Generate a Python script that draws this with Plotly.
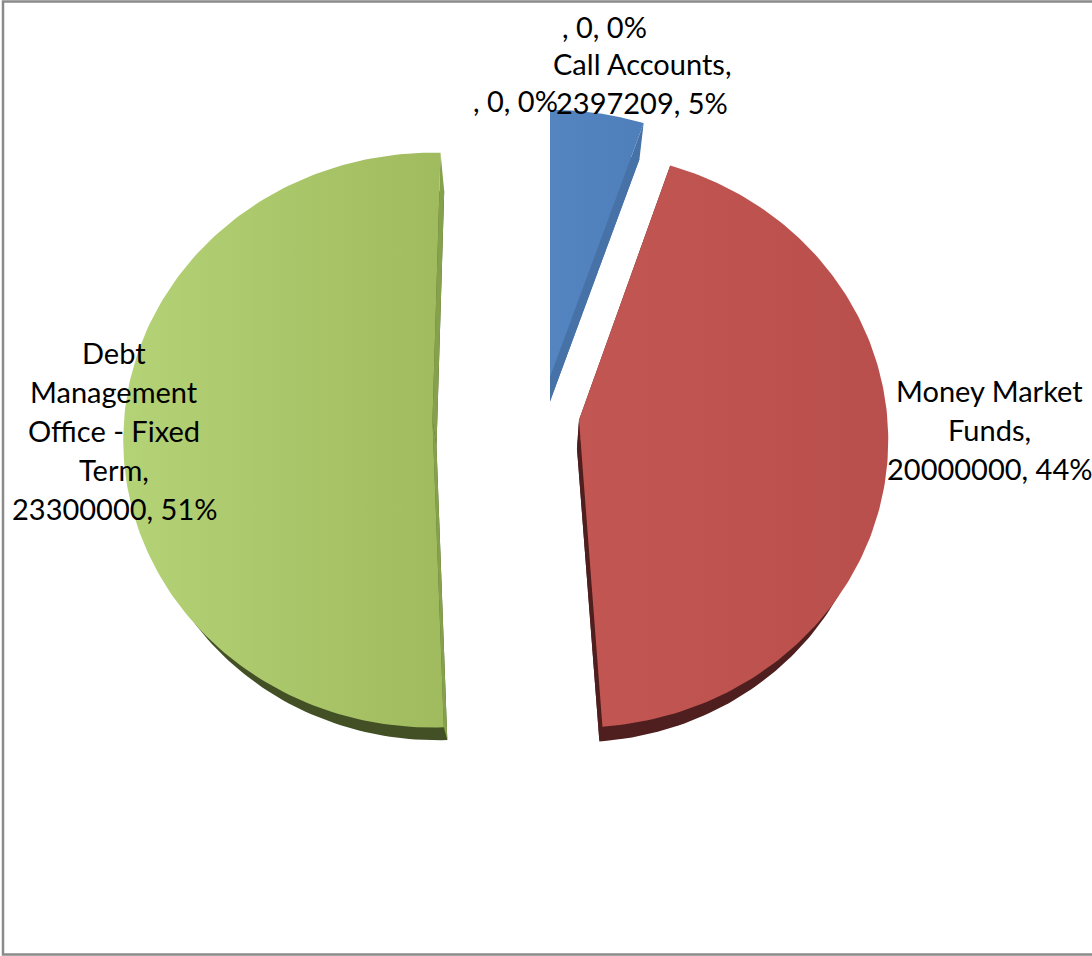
import numpy as np
import plotly.graph_objects as go

# Treasury investments by instrument
categories = ["Call Accounts", "Money Market Funds", "Debt Management Office - Fixed Term", "", ""]
values = [2397209, 20000000, 23300000, 0, 0]
percent_labels = ["5%", "44%", "51%", "0%", "0%"]

# Per-slice styling: exploded apex, turn in degrees, surface gradient, side and rim shades
SLICE_STYLE = [
    dict(apex=(550, 377), turn=0.0, drop=(0, 24.5), grad=("#5485C1", "#4F7FBA"), wall="#4672A8", rim="#4672A8"),
    dict(apex=(579, 420), turn=-0.5, drop=(-2, 28.5), grad=("#C25652", "#B94F4C"), wall="#4F1E1E", rim="#4F1E1E"),
    dict(apex=(432.5, 420), turn=1.6, drop=(4, 26.5), grad=("#B4D276", "#A0BB5E"), wall="#85A14C", rim="#434F24"),
]
RADIUS_X = 308.5
RADIUS_Y = 286.0
TILT = 0.07          # perspective foreshortening towards the back of the pie
FLOOR_SCALE = 0.955  # lower face sits slightly further from the viewer

# Label layout: wrapped text, centre x, centre y of the first line
LABEL_LAYOUT = [
    (["Call Accounts,", "{v}, {p}"], 642, 63),
    (["Money Market", "Funds,", "{v}, {p}"], 989, 390),
    (["Debt", "Management", "Office - Fixed", "Term,", "{v}, {p}"], 114, 352),
    ([", {v}, {p}"], 515, 100),
    ([", {v}, {p}"], 604, 26),
]
LINE_STEP = 39
LABEL_FONT = dict(family="Lato, Carlito, sans-serif", size=29, color="#000000")


def wedge(start, end, apex, scale=1.0, shift=(0, 0)):
    """Outline of a pie slice between two clockwise angles, projected with perspective."""
    theta = np.radians(np.linspace(start, end, 160))
    s = 1.0 / (1.0 + TILT * np.cos(theta))
    ax, ay = apex[0] + shift[0], apex[1] + shift[1]
    x = ax + scale * RADIUS_X * np.sin(theta) * s
    y = ay - scale * RADIUS_Y * np.cos(theta) * s
    return x, y, (ax, ay)


total = sum(values)
boundaries = np.cumsum([0] + values) / total * 360.0

fig = go.Figure()
for i, style in enumerate(SLICE_STYLE):
    a0 = boundaries[i] + style["turn"]
    a1 = boundaries[i + 1] + style["turn"]
    name = categories[i]

    # Lower face, visible as the dark rim
    fx, fy, fa = wedge(a0, a1, style["apex"], FLOOR_SCALE, style["drop"])
    fig.add_trace(go.Scatter(
        x=[fa[0], *fx, fa[0]], y=[fa[1], *fy, fa[1]], mode="lines", fill="toself",
        fillcolor=style["rim"], line=dict(width=0), hoverinfo="skip", showlegend=False))

    # Upper face outline, shared by the cut walls and the surface
    tx, ty, ta = wedge(a0, a1, style["apex"])

    # Flat cut walls joining the upper and lower faces
    for k in (0, -1):
        fig.add_trace(go.Scatter(
            x=[ta[0], tx[k], fx[k], fa[0], ta[0]], y=[ta[1], ty[k], fy[k], fa[1], ta[1]],
            mode="lines", fill="toself", fillcolor=style["wall"], line=dict(width=0),
            hoverinfo="skip", showlegend=False))

    # Upper face with its left-to-right shading
    fig.add_trace(go.Scatter(
        x=[ta[0], *tx, ta[0]], y=[ta[1], *ty, ta[1]], mode="lines", fill="toself",
        fillgradient=dict(type="horizontal", colorscale=[[0, style["grad"][0]], [1, style["grad"][1]]]),
        line=dict(width=0), name=name, hoverinfo="name", showlegend=False))

# Data labels, drawn from the same values as the slices, one annotation per line
for i, (lines, lx, ly) in enumerate(LABEL_LAYOUT):
    for n, line in enumerate(lines):
        fig.add_annotation(x=lx, y=ly + n * LINE_STEP, text=line.format(v=values[i], p=percent_labels[i]),
                           showarrow=False, font=LABEL_FONT, align="center",
                           xanchor="center", yanchor="middle")

# Chart frame, open past the right edge of the page
fig.add_shape(type="rect", x0=3, y0=1.5, x1=1098, y1=954.5, line=dict(color="#8A8A8A", width=2.5),
              fillcolor="rgba(0,0,0,0)", layer="below")

fig.update_xaxes(range=[0, 1092], visible=False, fixedrange=True)
fig.update_yaxes(range=[956, 0], visible=False, fixedrange=True)
fig.update_layout(width=1092, height=956, margin=dict(l=0, r=0, t=0, b=0),
                  paper_bgcolor="#FFFFFF", plot_bgcolor="#FFFFFF", showlegend=False)

fig.write_html("out.html", config=dict(displayModeBar=False))
